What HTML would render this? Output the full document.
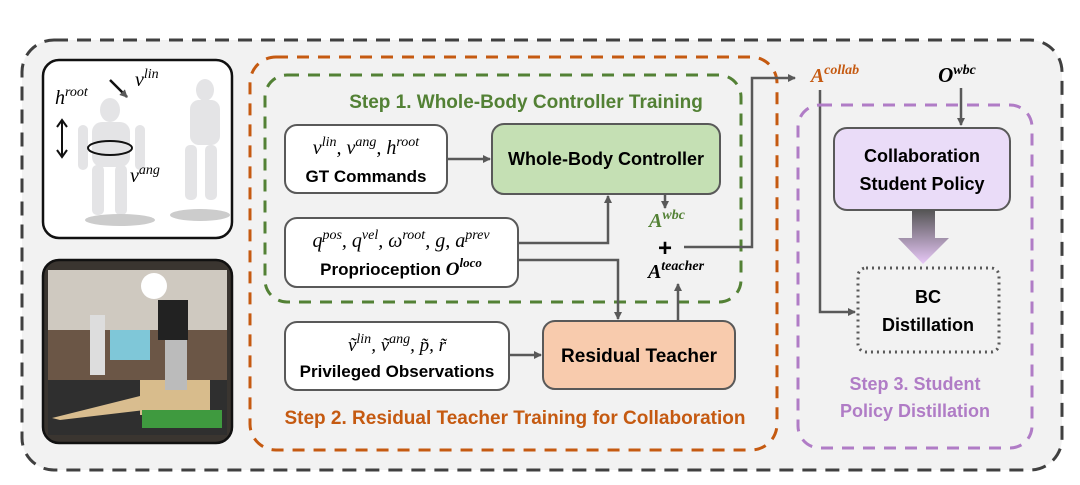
<!DOCTYPE html>
<html><head><meta charset="utf-8"><style>
body{margin:0;background:#fff;}
svg{display:block;font-family:"Liberation Sans",sans-serif;}
.b{font-weight:bold;}
.m{font-family:"Liberation Serif",serif;font-style:italic;}
</style></head><body>
<svg width="1080" height="485" viewBox="0 0 1080 485">
<defs>
<marker id="ar" markerWidth="8" markerHeight="8" refX="7" refY="4" orient="auto" markerUnits="userSpaceOnUse"><path d="M0,0 L8,4 L0,8 z" fill="#595959"/></marker>
<linearGradient id="pg" x1="0" y1="0" x2="0" y2="1"><stop offset="0" stop-color="#555"/><stop offset="1" stop-color="#e8c8f8"/></linearGradient>
</defs>
<rect x="22" y="40" width="1040" height="430" rx="32" fill="#f2f2f2" stroke="#404040" stroke-width="3" stroke-dasharray="14,9"/>
<rect x="43" y="60" width="189" height="178" rx="16" fill="#fff" stroke="#111" stroke-width="2.5"/>
<g fill="#e4e4e6">
<ellipse cx="110" cy="110" rx="10" ry="12"/><rect x="92" y="122" width="38" height="45" rx="10"/>
<rect x="92" y="165" width="12" height="50" rx="5"/><rect x="115" y="165" width="12" height="50" rx="5"/>
<rect x="78" y="125" width="10" height="45" rx="5"/><rect x="135" y="125" width="10" height="45" rx="5"/>
<ellipse cx="205" cy="90" rx="9" ry="11"/><rect x="190" y="100" width="30" height="45" rx="9"/>
<rect x="185" y="145" width="12" height="55" rx="5"/><rect x="205" y="145" width="12" height="55" rx="5"/>
</g>
<ellipse cx="120" cy="220" rx="35" ry="6" fill="#ccc"/><ellipse cx="200" cy="215" rx="30" ry="6" fill="#ccc"/>
<text x="55" y="104" class="m" font-size="20">h<tspan font-size="14" dy="-8">root</tspan></text>
<text x="135" y="86" class="m" font-size="20">v<tspan font-size="14" dy="-8">lin</tspan></text>
<text x="130" y="182" class="m" font-size="20">v<tspan font-size="14" dy="-8">ang</tspan></text>
<line x1="110" y1="80" x2="127" y2="97" stroke="#111" stroke-width="2.5" marker-end="url(#ar)"/>
<line x1="62" y1="122" x2="62" y2="155" stroke="#111" stroke-width="2"/>
<path d="M57,127 L62,120 L67,127 M57,150 L62,157 L67,150" fill="none" stroke="#111" stroke-width="2"/>
<ellipse cx="110" cy="148" rx="22" ry="7" fill="none" stroke="#111" stroke-width="2"/>
<rect x="43" y="260" width="189" height="183" rx="16" fill="#3a3530" stroke="#111" stroke-width="2.5"/>
<rect x="48" y="270" width="179" height="60" fill="#cfc9c0"/>
<rect x="48" y="330" width="179" height="50" fill="#6b5646"/>
<rect x="48" y="380" width="179" height="55" fill="#2f2f2f"/>
<polygon points="52,418 140,396 145,410 60,420" fill="#d9bd8f"/>
<rect x="140" y="380" width="70" height="35" fill="#d8bc8c"/>
<rect x="142" y="410" width="80" height="18" fill="#3f9a3f"/>
<rect x="110" y="330" width="40" height="30" fill="#7fc7d8"/>
<circle cx="154" cy="286" r="13" fill="#fff"/>
<rect x="158" y="300" width="30" height="40" fill="#222"/>
<rect x="165" y="340" width="22" height="50" fill="#bbb"/>
<rect x="90" y="315" width="15" height="60" fill="#ddd"/>
<rect x="250" y="57" width="527" height="393" rx="26" fill="none" stroke="#c55a11" stroke-width="3" stroke-dasharray="12,9"/>
<rect x="265" y="75" width="476" height="227" rx="22" fill="none" stroke="#538135" stroke-width="3" stroke-dasharray="12,9"/>
<text x="526" y="108" text-anchor="middle" class="b" font-size="19" fill="#538135">Step 1. Whole-Body Controller Training</text>
<rect x="285" y="125" width="162" height="68" rx="12" fill="#fff" stroke="#595959" stroke-width="2"/>
<text x="366" y="154" text-anchor="middle" class="m" font-size="20">v<tspan font-size="14" dy="-8">lin</tspan><tspan dy="8">, v</tspan><tspan font-size="14" dy="-8">ang</tspan><tspan dy="8">, h</tspan><tspan font-size="14" dy="-8">root</tspan></text>
<text x="366" y="182" text-anchor="middle" class="b" font-size="17">GT Commands</text>
<rect x="492" y="124" width="228" height="70" rx="12" fill="#c5e0b4" stroke="#595959" stroke-width="2"/>
<text x="606" y="165" text-anchor="middle" class="b" font-size="18">Whole-Body Controller</text>
<rect x="285" y="218" width="233" height="69" rx="12" fill="#fff" stroke="#595959" stroke-width="2"/>
<text x="401" y="247" text-anchor="middle" class="m" font-size="20">q<tspan font-size="14" dy="-8">pos</tspan><tspan dy="8">, q</tspan><tspan font-size="14" dy="-8">vel</tspan><tspan dy="8">, ω</tspan><tspan font-size="14" dy="-8">root</tspan><tspan dy="8">, g, a</tspan><tspan font-size="14" dy="-8">prev</tspan></text>
<text x="401" y="275" text-anchor="middle" class="b" font-size="17">Proprioception <tspan class="m" font-size="19">O</tspan><tspan class="m" font-size="13" dy="-8">loco</tspan></text>
<text x="667" y="227" text-anchor="middle" class="m b" font-size="20" fill="#538135">A<tspan font-size="14" dy="-8">wbc</tspan></text>
<text x="665" y="256" text-anchor="middle" class="b" font-size="24">+</text>
<text x="676" y="278" text-anchor="middle" class="m b" font-size="20">A<tspan font-size="14" dy="-8">teacher</tspan></text>
<g stroke="#595959" stroke-width="2.5" fill="none">
<line x1="447" y1="159" x2="490" y2="159" marker-end="url(#ar)"/>
<polyline points="518,243 608,243 608,196" marker-end="url(#ar)"/>
<polyline points="518,260 618,260 618,319" marker-end="url(#ar)"/>
<line x1="665" y1="194" x2="665" y2="208" marker-end="url(#ar)"/>
<line x1="678" y1="320" x2="678" y2="284" marker-end="url(#ar)"/>
<polyline points="684,247 752,247 752,78 795,78" marker-end="url(#ar)"/>
<polyline points="820,90 820,312 855,312" marker-end="url(#ar)"/>
<line x1="961" y1="88" x2="961" y2="125" marker-end="url(#ar)"/>
<line x1="509" y1="355" x2="541" y2="355" marker-end="url(#ar)"/>
</g>
<rect x="285" y="322" width="224" height="68" rx="12" fill="#fff" stroke="#595959" stroke-width="2"/>
<text x="397" y="351" text-anchor="middle" class="m" font-size="19">ṽ<tspan font-size="14" dy="-8">lin</tspan><tspan dy="8">, ṽ</tspan><tspan font-size="14" dy="-8">ang</tspan><tspan dy="8">, p̃, r̃</tspan></text>
<text x="397" y="377" text-anchor="middle" class="b" font-size="17">Privileged Observations</text>
<rect x="543" y="321" width="192" height="68" rx="12" fill="#f8cbad" stroke="#595959" stroke-width="2"/>
<text x="639" y="362" text-anchor="middle" class="b" font-size="19">Residual Teacher</text>
<text x="515" y="424" text-anchor="middle" class="b" font-size="19" fill="#c55a11">Step 2. Residual Teacher Training for Collaboration</text>
<rect x="798" y="105" width="234" height="343" rx="22" fill="none" stroke="#b07cc6" stroke-width="3" stroke-dasharray="12,9"/>
<text x="835" y="82" text-anchor="middle" class="m b" font-size="20" fill="#c55a11">A<tspan font-size="14" dy="-8">collab</tspan></text>
<text x="957" y="82" text-anchor="middle" class="m b" font-size="21">O<tspan font-size="14" dy="-8">wbc</tspan></text>
<rect x="834" y="128" width="176" height="82" rx="13" fill="#eadcf8" stroke="#595959" stroke-width="2"/>
<text x="922" y="162" text-anchor="middle" class="b" font-size="18">Collaboration</text>
<text x="922" y="190" text-anchor="middle" class="b" font-size="18">Student Policy</text>
<polygon points="912,210 935,210 935,238 949,238 923,264 898,238 912,238" fill="url(#pg)"/>
<rect x="858" y="268" width="141" height="84" rx="8" fill="none" stroke="#595959" stroke-width="3" stroke-dasharray="2,4"/>
<text x="928" y="303" text-anchor="middle" class="b" font-size="18">BC</text>
<text x="928" y="331" text-anchor="middle" class="b" font-size="18">Distillation</text>
<text x="915" y="390" text-anchor="middle" class="b" font-size="18" fill="#b07cc6">Step 3. Student</text>
<text x="915" y="417" text-anchor="middle" class="b" font-size="18" fill="#b07cc6">Policy Distillation</text>
</svg>
</body></html>
